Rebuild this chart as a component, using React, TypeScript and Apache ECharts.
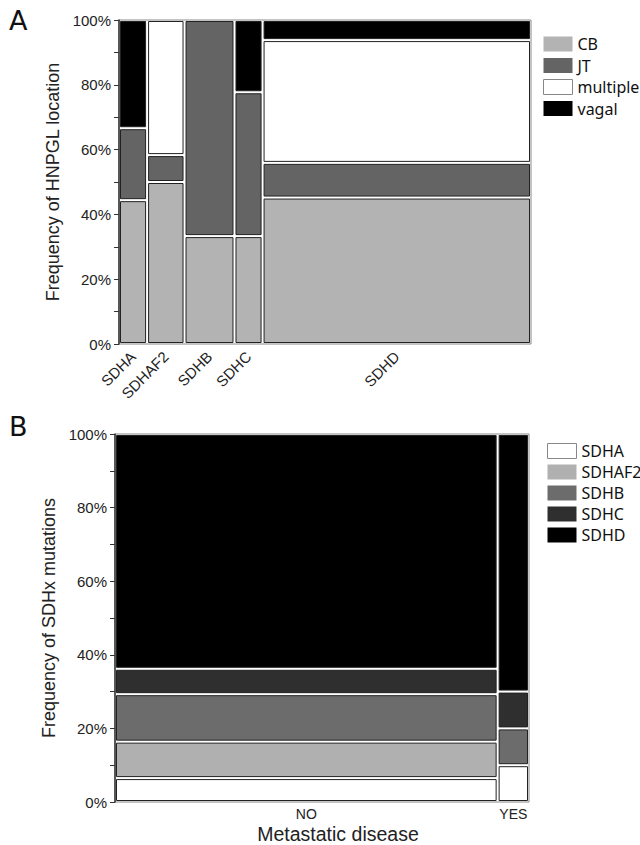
import React, { useEffect, useRef } from "react";
import * as echarts from "echarts";

// Panel A: HNPGL location by gene (mosaic)
const genesA = ["SDHA", "SDHAF2", "SDHB", "SDHC", "SDHD"];
const countsA = [9, 12, 16, 9, 86];
const locations = ["CB", "JT", "multiple", "vagal"];
const cbPct = [44.4, 50.0, 33.3, 33.3, 45.2];
const jtPct = [22.2, 8.3, 66.7, 44.4, 10.7];
const multiplePct = [0, 41.7, 0, 0, 37.9];
const vagalPct = [33.4, 0, 0, 22.3, 6.2];
const locationColors = ["#b3b3b3", "#646464", "#ffffff", "#000000"];

// Panel B: SDHx mutation by metastatic disease (mosaic)
const metastatic = ["NO", "YES"];
const countsB = [122, 10];
const genesB = ["SDHA", "SDHAF2", "SDHB", "SDHC", "SDHD"];
const sdhaPct = [6.5, 10];
const sdhaf2Pct = [9.9, 0];
const sdhbPct = [12.9, 10];
const sdhcPct = [6.9, 10];
const sdhdPct = [63.8, 70];
const geneColors = ["#ffffff", "#b0b0b0", "#6c6c6c", "#2f2f2f", "#000000"];

const yTicks = [0, 20, 40, 60, 80, 100];

function buildMosaic(counts: number[], layers: number[][]) {
  const starts: number[] = [];
  let acc = 0;
  counts.forEach((c) => {
    starts.push(acc);
    acc += c;
  });
  const centers = counts.map((c, i) => starts[i] + c / 2);
  const cum = counts.map(() => 0);
  const layerData = layers.map((layer) => {
    const out: number[][] = [];
    layer.forEach((p, i) => {
      if (p > 0) out.push([starts[i], starts[i] + counts[i], cum[i], cum[i] + p]);
      cum[i] += p;
    });
    return out;
  });
  return { total: acc, centers, layerData };
}

function makeRender(color: string) {
  return (params: any, api: any) => {
    const p0 = api.coord([api.value(0), api.value(2)]);
    const p1 = api.coord([api.value(1), api.value(3)]);
    const inset = 1.5;
    return {
      type: "rect",
      shape: {
        x: p0[0] + inset,
        y: p1[1] + inset,
        width: p1[0] - p0[0] - 2 * inset,
        height: p0[1] - p1[1] - 2 * inset,
      },
      style: { fill: color, stroke: "#222", lineWidth: 1 },
    };
  };
}

export default function App() {
  const ref = useRef<HTMLDivElement>(null);
  useEffect(() => {
    if (!ref.current) return;
    const chart = echarts.init(ref.current, null, { renderer: "svg" });
    const A = buildMosaic(countsA, [cbPct, jtPct, multiplePct, vagalPct]);
    const B = buildMosaic(countsB, [sdhaPct, sdhaf2Pct, sdhbPct, sdhcPct, sdhdPct]);
    const nearest = (centers: number[], v: number) => {
      let best = 0;
      centers.forEach((c, i) => {
        if (Math.abs(c - v) < Math.abs(centers[best] - v)) best = i;
      });
      return best;
    };
    const axisFont = { fontFamily: "Liberation Sans, Arial", color: "#222" };
    const yAxisCommon = (name: string, gap: number) => ({
      type: "value",
      min: yTicks[0],
      max: yTicks[yTicks.length - 1],
      interval: 20,
      name,
      nameLocation: "middle",
      nameGap: gap,
      nameTextStyle: { ...axisFont, fontSize: 18 },
      axisLine: { show: true, lineStyle: { color: "#333", width: 1.5 } },
      axisTick: { show: true, length: 5, lineStyle: { color: "#333" } },
      minorTick: { show: true, splitNumber: 2, length: 5, lineStyle: { color: "#333" } },
      splitLine: { show: false },
      minorSplitLine: { show: false },
      axisLabel: { ...axisFont, fontSize: 15, margin: 8, formatter: "{value}%" },
    });
    const legendCommon = {
      orient: "vertical",
      selectedMode: false,
      icon: "rect",
      itemWidth: 29,
      itemHeight: 15,
      textStyle: { fontFamily: "Noto Sans", fontSize: 16, color: "#111", lineHeight: 15, padding: [0, 0, 0, 0] },
    };
    const legendData = (names: string[], colors: string[]) =>
      names.map((n, i) => ({
        name: n,
        itemStyle:
          colors[i] === "#ffffff"
            ? { color: "#ffffff", borderColor: "#888", borderWidth: 1 }
            : { color: colors[i], borderWidth: 0 },
      }));

    chart.setOption({
      animation: false,
      backgroundColor: "#ffffff",
      grid: [
        { left: 119, top: 20, width: 412, height: 324, show: true, borderColor: "#888", borderWidth: 1, backgroundColor: "transparent" },
        { left: 115, top: 434, width: 414, height: 368, show: true, borderColor: "#888", borderWidth: 1, backgroundColor: "transparent" },
      ],
      xAxis: [
        {
          type: "value",
          gridIndex: 0,
          min: 0,
          max: A.total,
          axisLine: { show: false },
          axisTick: { show: false },
          splitLine: { show: false },
          axisLabel: {
            customValues: A.centers,
            formatter: (v: number) => genesA[nearest(A.centers, v)],
            rotate: 45,
            margin: 10,
            ...axisFont,
            fontSize: 15,
          },
        },
        {
          type: "value",
          gridIndex: 1,
          min: 0,
          max: B.total,
          name: "Metastatic disease",
          nameLocation: "middle",
          nameGap: 22,
          nameTextStyle: { ...axisFont, fontSize: 19.5, padding: [0, 0, 0, 32] },
          axisLine: { show: false },
          axisTick: { show: false },
          splitLine: { show: false },
          axisLabel: {
            customValues: B.centers,
            formatter: (v: number) => metastatic[nearest(B.centers, v)],
            margin: 5,
            ...axisFont,
            fontSize: 14,
          },
        },
      ],
      yAxis: [
        { ...yAxisCommon("Frequency of HNPGL location", 49), gridIndex: 0 },
        { ...yAxisCommon("Frequency of SDHx mutations", 50), gridIndex: 1 },
      ],
      legend: [
        { ...legendCommon, left: 538, top: 31, itemGap: 5.5, data: legendData(locations, locationColors) },
        { ...legendCommon, left: 542, top: 438, itemGap: 5, data: legendData(genesB, geneColors) },
      ],
      graphic: [
        { type: "text", left: 9, top: 7, style: { text: "A", fontFamily: "DejaVu Sans", fontSize: 27, fill: "#111" } },
        { type: "text", left: 9, top: 413, style: { text: "B", fontFamily: "DejaVu Sans", fontSize: 27, fill: "#111" } },
      ],
      series: [
        ...locations.map((name, i) => ({
          type: "custom",
          name,
          xAxisIndex: 0,
          yAxisIndex: 0,
          itemStyle: { color: locationColors[i] },
          encode: { x: [0, 1], y: [2, 3] },
          renderItem: makeRender(locationColors[i]),
          data: A.layerData[i],
        })),
        ...genesB.map((name, i) => ({
          type: "custom",
          name,
          xAxisIndex: 1,
          yAxisIndex: 1,
          itemStyle: { color: geneColors[i] },
          encode: { x: [0, 1], y: [2, 3] },
          renderItem: makeRender(geneColors[i]),
          data: B.layerData[i],
        })),
      ],
    });
    return () => chart.dispose();
  }, []);
  return (
    <div
      ref={ref}
      style={{ position: "absolute", left: 0, top: 0, width: 640, height: 845 }}
    />
  );
}
